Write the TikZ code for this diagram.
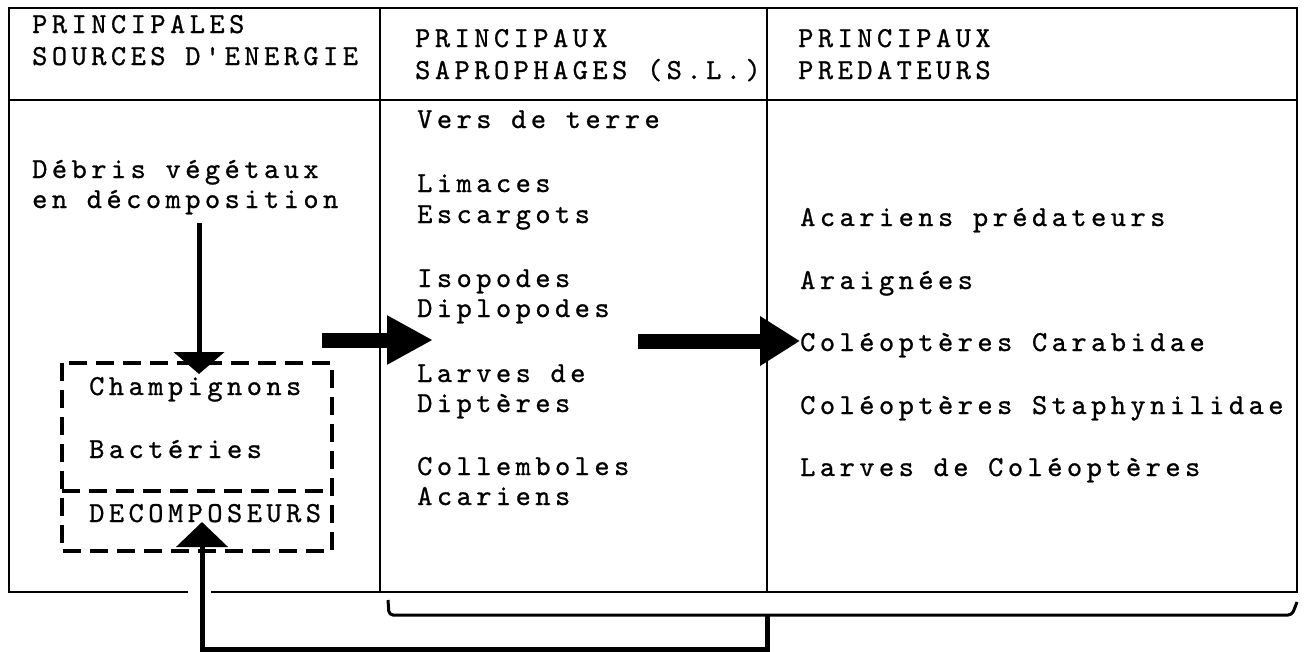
\documentclass[tikz,border=0pt]{standalone}
\usepackage{fontspec}
\newfontfamily\tw{lmmono10-regular}[Extension=.otf, LetterSpace=15.4, FakeBold=0.8]
\usetikzlibrary{arrows.meta}
\begin{document}
\begin{tikzpicture}[x=1pt,y=-1pt,
  txt/.style={anchor=base west, inner sep=0pt, font=\tw\fontsize{29}{33}\selectfont},
  frame/.style={line width=2.6pt},
  conn/.style={line width=5pt, line join=miter},
  bigarrow/.style={line width=15pt},
  dbox/.style={line width=3.5pt, dash pattern=on 18pt off 9pt}]
\useasboundingbox (0,0) rectangle (1307,651);
% frame
\draw[frame] (188,592) -- (9,592) -- (9,8) -- (1297,8) -- (1297,592) -- (211,592);
\draw[frame] (9,100) -- (1297,100);
\draw[frame] (380,8) -- (380,592);
\draw[frame] (767,8) -- (767,592);
% headers
\node[txt] (h1a) at (32,33) {PRINCIPALES};
\node[txt] (h1b) at (32,65) {SOURCES D'ENERGIE};
\node[txt] (h2a) at (415,47) {PRINCIPAUX};
\node[txt] (h2b) at (415,79) {SAPROPHAGES (S.L.)};
\node[txt] (h3a) at (798,47) {PRINCIPAUX};
\node[txt] (h3b) at (798,79) {PREDATEURS};
% column 1
\node[txt] (deb1) at (32,178) {Débris végétaux};
\node[txt] (deb2) at (32,208) {en décomposition};
\node[txt] (champ) at (89,395) {Champignons};
\node[txt] (bact) at (89,458) {Bactéries};
\node[txt] (decomp) at (89,522) {DECOMPOSEURS};
% column 2
\node[txt] (s1) at (417,128) {Vers de terre};
\node[txt] (s2) at (417,192) {Limaces};
\node[txt] (s3) at (417,223) {Escargots};
\node[txt] (s4) at (417,287) {Isopodes};
\node[txt] (s5) at (417,317) {Diplopodes};
\node[txt] (s6) at (417,382) {Larves de};
\node[txt] (s7) at (417,412) {Diptères};
\node[txt] (s8) at (417,475) {Collemboles};
\node[txt] (s9) at (417,505) {Acariens};
% column 3
\node[txt] (p1) at (800,226) {Acariens prédateurs};
\node[txt] (p2) at (800,289) {Araignées};
\node[txt] (p3) at (800,351) {Coléoptères Carabidae};
\node[txt] (p4) at (800,414) {Coléoptères Staphynilidae};
\node[txt] (p5) at (800,476) {Larves de Coléoptères};
% decomposer dashed box
\draw[dbox] (62,363) rectangle (332,551);
\draw[dbox] (62,491) -- (332,491);
% down arrow
\coordinate (dA) at (199,223);
\coordinate (dB) at (199,374);
\draw[conn, -{Triangle[length=22pt,width=50pt]}] (dA) -- (dB);
% thick arrows
\coordinate (a1s) at (322,340);
\coordinate (a1e) at (433,340);
\draw[bigarrow, -{Triangle[length=46pt,width=46pt]}] (a1s) -- (a1e);
\coordinate (a2s) at (638,341);
\coordinate (a2e) at (800,341);
\draw[bigarrow, -{Triangle[length=40pt,width=47pt]}] (a2s) -- (a2e);
% bracket
\draw[line width=3pt, rounded corners=4pt] (388,600) -- (389,615) -- (1292,615) -- (1297,602);
% feedback connector
\coordinate (fb0) at (767,615);
\coordinate (fb1) at (767,649);
\coordinate (fb2) at (202,649);
\coordinate (fbT) at (202,522);
\draw[conn, -{Triangle[length=25pt,width=51pt]}] (fb0) -- (fb1) -- (fb2) -- (fbT);
\end{tikzpicture}
\end{document}
